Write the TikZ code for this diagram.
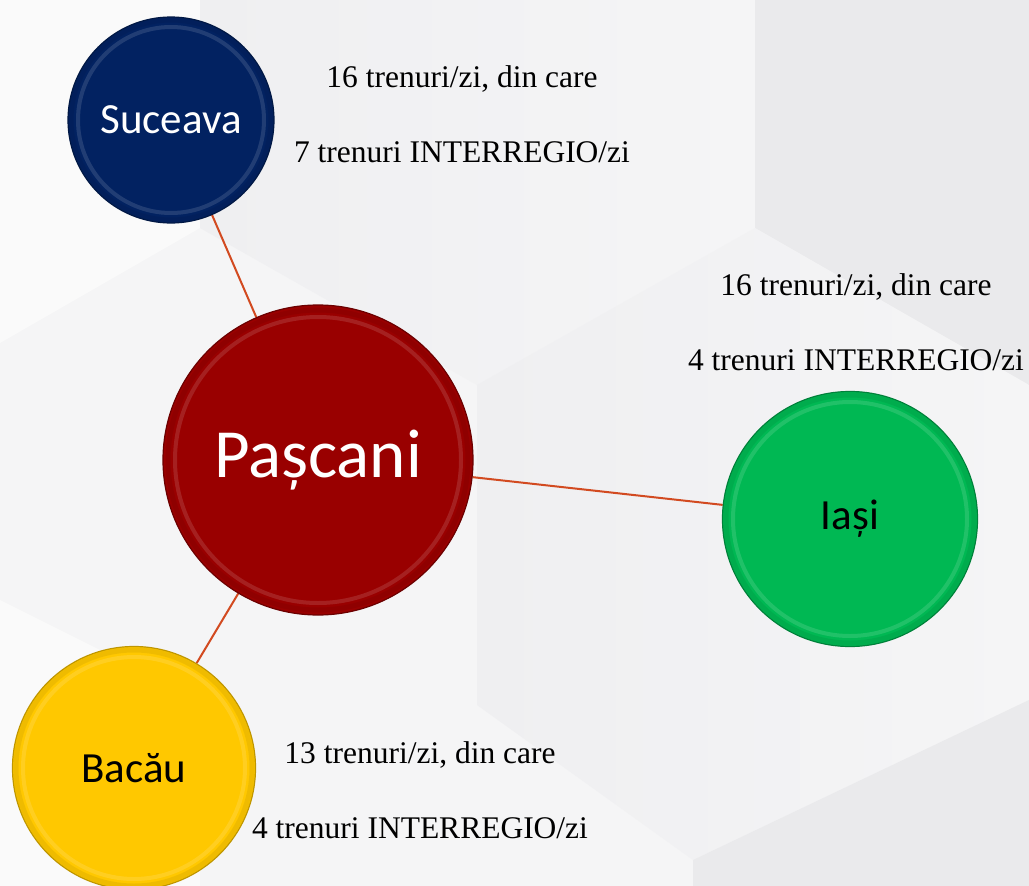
\documentclass[tikz,border=0pt]{standalone}
\usepackage{fontspec}
\setmainfont{Liberation Serif}
\newfontfamily\citysans{Carlito}
\pgfdeclarelayer{backdrop}
\pgfdeclarelayer{links}
\pgfsetlayers{backdrop,links,main}

\definecolor{sucblue}{HTML}{022261}
\definecolor{pasred}{HTML}{990000}
\definecolor{iasgreen}{HTML}{00B853}
\definecolor{bacyellow}{HTML}{FFC800}
\definecolor{linkorange}{HTML}{D24A20}
\definecolor{bgbase}{HTML}{F5F5F6}
\definecolor{bglight}{HTML}{FAFAFA}
\definecolor{bgmid}{HTML}{EFEFF1}
\definecolor{bgdark}{HTML}{EAEAEC}

\begin{document}
\begin{tikzpicture}[x=1pt,y=-1pt,
  city/.style={circle,inner sep=0pt,line width=1.2pt,font=\citysans\fontsize{43}{51}\selectfont},
  link/.style={draw=linkorange,line width=2pt},
  info/.style={align=center,inner sep=0pt,font=\fontsize{31.5}{75}\selectfont}]
\useasboundingbox (0,0) rectangle (1029,886);

% backdrop faces
\begin{pgfonlayer}{backdrop}
\fill[bgbase] (0,0) rectangle (1029,886);
\fill[bglight] (0,0) -- (200,0) -- (200,228) -- (0,343) -- cycle;
\shade[left color=bgmid,right color=bgbase] (200,0) -- (755,0) -- (755,228) -- (477,385) -- (200,228) -- cycle;
\fill[bgdark] (755,0) -- (1029,0) -- (1029,385) -- (755,228) -- cycle;
\shade[left color=bgmid,right color=bgbase] (477,385) -- (755,228) -- (1029,385) -- (1029,700) -- (693,860) -- (477,705) -- cycle;
\fill[bgdark] (693,860) -- (1029,700) -- (1029,886) -- (693,886) -- cycle;
\fill[bglight] (0,600) -- (200,700) -- (200,886) -- (0,886) -- cycle;
\end{pgfonlayer}

% cities
\node[city,fill=pasred,draw=pasred!70!black,minimum size=310pt,text=white,font=\citysans\fontsize{69}{82}\selectfont] (city_pas) at (318,460) {Pașcani};
\node[city,fill=sucblue,draw=sucblue!70!black,minimum size=206pt,text=white] (city_suc) at (171,120) {Suceava};
\node[city,fill=iasgreen,draw=iasgreen!70!black,minimum size=255pt] (city_ias) at (850,519) {Iași};
\node[city,fill=bacyellow,draw=bacyellow!75!black,minimum size=243pt] (city_bac) at (134,768) {Bacău};

% bevel rims
\foreach \n/\c/\r in {city_suc/sucblue/93,city_pas/pasred/143,city_ias/iasgreen/117,city_bac/bacyellow/111}{
  \draw[\c!80!black,line width=5pt,opacity=.3] (\n.center) circle[radius=\r pt+7pt];
  \draw[\c!50!white,line width=4pt,opacity=.25] (\n.center) circle[radius=\r pt];
}

% links
\begin{pgfonlayer}{links}
\draw[link] (city_suc) -- (city_pas);
\draw[link] (city_pas) -- (city_ias);
\draw[link] (city_pas) -- (city_bac);
\end{pgfonlayer}

% train counts
\node[info] (info_suc) at (462,114) {16 trenuri/zi, din care\\7 trenuri INTERREGIO/zi};
\node[info] (info_ias) at (856,322) {16 trenuri/zi, din care\\4 trenuri INTERREGIO/zi};
\node[info] (info_bac) at (420,790) {13 trenuri/zi, din care\\4 trenuri INTERREGIO/zi};
\end{tikzpicture}
\end{document}
